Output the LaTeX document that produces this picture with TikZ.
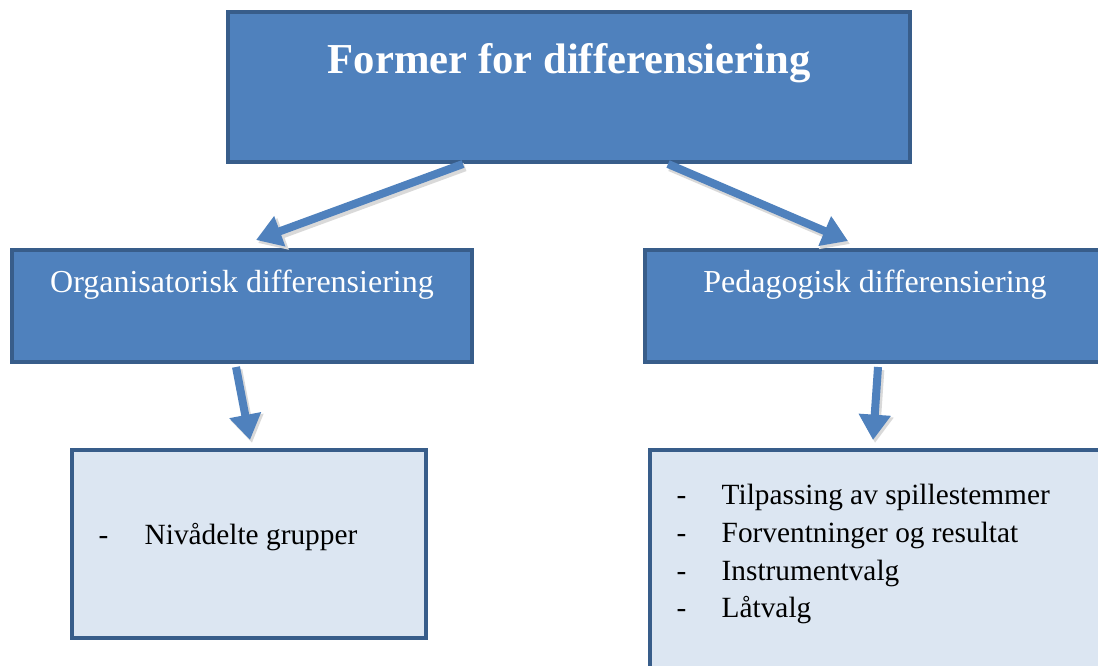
\documentclass[tikz,border=0pt]{standalone}
\usepackage{fontspec}
\setmainfont{Liberation Serif}
\usetikzlibrary{arrows.meta,calc}
\definecolor{boxblue}{HTML}{4F81BD}
\definecolor{boxedge}{HTML}{385D8A}
\definecolor{lightfill}{HTML}{DCE6F2}
\tikzset{
  darkbox/.style={draw=boxedge, line width=3pt, fill=boxblue, inner sep=0pt},
  lightbox/.style={draw=boxedge, line width=3pt, fill=lightfill, inner sep=0pt},
  bodytext/.style={font=\fontsize{24}{29}\selectfont},
  listtext/.style={font=\fontsize{22}{27}\selectfont, anchor=west},
  flow/.style={draw=boxblue, line width=6pt, -{Triangle[width=23pt,length=19pt]}},
  flowshadow/.style={draw=black!15, line width=6.5pt, -{Triangle[width=24pt,length=20pt]}}
}
\begin{document}
\begin{tikzpicture}[x=0.75pt,y=-0.75pt]
\useasboundingbox (0,0) rectangle (1098,666);
\clip (0,0) rectangle (1098,666);
% boxes
\node[darkbox, minimum width=682*0.75pt, minimum height=150*0.75pt] (top) at (569,87) {};
\node[font=\bfseries\fontsize{32}{38}\selectfont, text=white] (toptext) at (569,63) {Former for differensiering};
\node[darkbox, minimum width=460*0.75pt, minimum height=112*0.75pt] (orgbox) at (242,306) {};
\node[bodytext, text=white] (orgtext) at (242,285) {Organisatorisk differensiering};
\node[darkbox, minimum width=460*0.75pt, minimum height=112*0.75pt] (pedbox) at (875,306) {};
\node[bodytext, text=white] (pedtext) at (875,285) {Pedagogisk differensiering};
\node[lightbox, minimum width=354*0.75pt, minimum height=188*0.75pt] (nivbox) at (249,544) {};
\node[listtext] (nivdash) at (94,540) {-};
\node[listtext] (nivtext) at (140,537) {Nivådelte grupper};
\node[lightbox, minimum width=460*0.75pt, minimum height=240*0.75pt] (listbox) at (880,570) {};
\node[listtext] (d1) at (672,500) {-};
\node[listtext] (t1) at (717,497) {Tilpassing av spillestemmer};
\node[listtext] (d2) at (672,538) {-};
\node[listtext] (t2) at (717,535) {Forventninger og resultat};
\node[listtext] (d3) at (672,576) {-};
\node[listtext] (t3) at (717,573) {Instrumentvalg};
\node[listtext] (d4) at (672,613) {-};
\node[listtext] (t4) at (717,610) {Låtvalg};
% arrow endpoints
\coordinate (a1s) at ($(top.south west)+(237,0)$);
\coordinate (a1e) at ($(orgbox.north west)+(246,-8)$);
\coordinate (a2s) at ($(top.south west)+(442,0)$);
\coordinate (a2e) at ($(pedbox.north west)+(205,-7)$);
\coordinate (a3s) at ($(orgbox.south west)+(226,3)$);
\coordinate (a3e) at ($(nivbox.north west)+(180,-8)$);
\coordinate (a4s) at ($(pedbox.south west)+(235,3)$);
\coordinate (a4e) at ($(listbox.north west)+(225,-8)$);
% shadows
\draw[flowshadow] ($(a1s)+(2,3)$) -- ($(a1e)+(2,3)$);
\draw[flowshadow] ($(a2s)+(2,3)$) -- ($(a2e)+(2,3)$);
\draw[flowshadow] ($(a3s)+(2,3)$) -- ($(a3e)+(2,3)$);
\draw[flowshadow] ($(a4s)+(2,3)$) -- ($(a4e)+(2,3)$);
% arrows
\draw[flow] (a1s) -- (a1e);
\draw[flow] (a2s) -- (a2e);
\draw[flow] (a3s) -- (a3e);
\draw[flow] (a4s) -- (a4e);
\end{tikzpicture}
\end{document}
